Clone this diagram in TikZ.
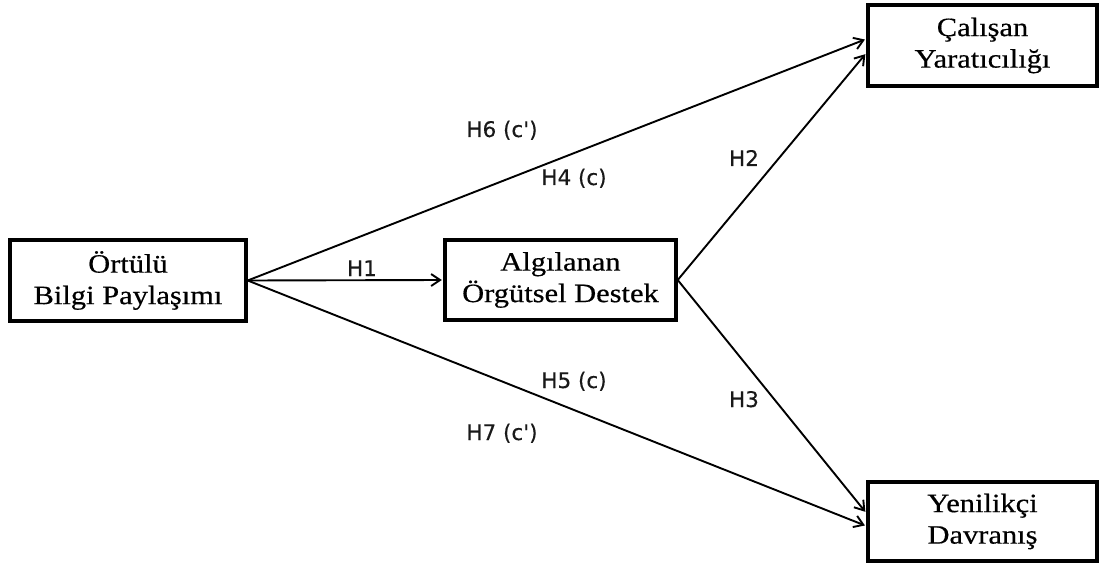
\documentclass[tikz,border=0pt]{standalone}
\usepackage{fontspec}
\setmainfont{Liberation Serif}[FakeStretch=1.15,FakeBold=0.5]
\newfontfamily\lblfont{DejaVu Sans}[FakeBold=0.3]
\usetikzlibrary{arrows.meta,calc}

\tikzset{
  varbox/.style={draw, line width=3.4pt, rectangle, inner sep=0pt, align=center,
                 font=\fontsize{26.5}{31.5}\selectfont, text=black},
  link/.style={line width=1.9pt, -{Straight Barb[length=9pt,width=12pt,line width=1.9pt]},
               shorten >=1.5pt},
  hlabel/.style={font=\lblfont\fontsize{21.5}{24}\selectfont, anchor=base, inner sep=0pt, text=black!90}
}

\begin{document}
\begin{tikzpicture}[x=1pt,y=-1pt]
  \useasboundingbox (0,0) rectangle (1099,569);

  % constructs
  \node[varbox, minimum width=236pt, minimum height=81pt] (tks) at (128,280.5)
       {Örtülü\\Bilgi Paylaşımı};
  \node[varbox, minimum width=231pt, minimum height=80pt] (aod) at (560.5,280)
       {Algılanan\\Örgütsel Destek};
  \node[varbox, minimum width=229pt, minimum height=81pt] (cy) at (982.5,45.5)
       {Çalışan\\Yaratıcılığı};
  \node[varbox, minimum width=229pt, minimum height=79pt] (yd) at (982.5,521.5)
       {Yenilikçi\\Davranış};

  % arrow targets on the outcome boxes
  \coordinate (cyA) at ($(cy.west)+(0,-6.5)$);
  \coordinate (cyB) at ($(cy.west)+(0,7.5)$);
  \coordinate (ydA) at ($(yd.west)+(0,-8.5)$);
  \coordinate (ydB) at ($(yd.west)+(0,4.5)$);

  % paths
  \draw[link] (tks.east) -- (aod.west);
  \draw[link] (tks.east) -- (cyA);
  \draw[link] (aod.east) -- (cyB);
  \draw[link] (aod.east) -- (ydA);
  \draw[link] (tks.east) -- (ydB);

  % hypothesis labels
  \node[hlabel] (h1) at (362,276) {H1};
  \node[hlabel] (h2) at (744,166) {H2};
  \node[hlabel] (h3) at (744,407) {H3};
  \node[hlabel] (h4) at (574,185) {H4 (c)};
  \node[hlabel] (h5) at (574,388) {H5 (c)};
  \node[hlabel] (h6) at (502,137) {H6 (c')};
  \node[hlabel] (h7) at (502,440) {H7 (c')};
\end{tikzpicture}
\end{document}
